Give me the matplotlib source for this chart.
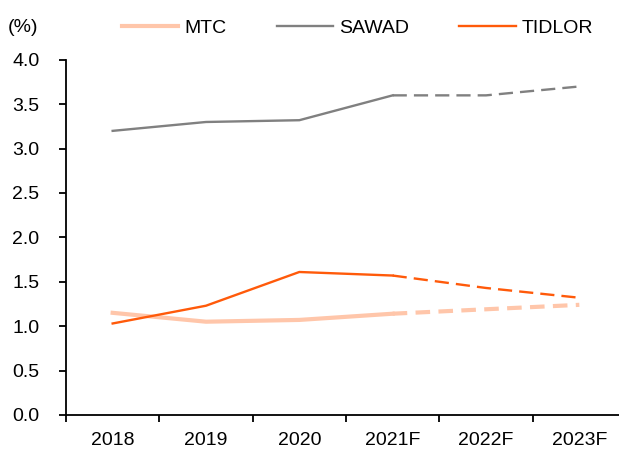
import matplotlib.pyplot as plt

plt.rcParams['font.family'] = ['Liberation Sans', 'DejaVu Sans']

years = ["2018", "2019", "2020", "2021F", "2022F", "2023F"]
mtc = [1.15, 1.05, 1.07, 1.14, 1.19, 1.24]
sawad = [3.20, 3.30, 3.32, 3.60, 3.60, 3.70]
tidlor = [1.03, 1.23, 1.61, 1.57, 1.43, 1.32]

n_actual = 4  # 2018-2021F solid, then dashed forecasts

series = [
    ("MTC", mtc, "#FFC6AA", 3.0, (3.5, 2)),
    ("SAWAD", sawad, "#808080", 1.7, (6, 3)),
    ("TIDLOR", tidlor, "#FF5A0A", 1.7, (6, 3)),
]

fig = plt.figure(figsize=(6.19, 4.5), dpi=100)
ax = fig.add_axes([0.1066, 0.078, 0.8934, 0.789])

x = list(range(len(years)))
for name, vals, col, lw, dash in series:
    ax.plot(x[:n_actual], vals[:n_actual], color=col, lw=lw, label=name,
            solid_joinstyle='miter')
    ax.plot(x[n_actual - 1:], vals[n_actual - 1:], color=col, lw=lw,
            dashes=dash)

ax.set_ylim(0, 4.0)
ax.set_yticks([i * 0.5 for i in range(9)])
ax.set_yticklabels([f"{i * 0.5:.1f}" for i in range(9)])
ax.set_xlim(-0.5, 5.425)
ax.set_xticks(x)
ax.set_xticklabels(years)
ax.set_xticks([i - 0.5 for i in range(6)], minor=True)
ax.tick_params(axis='x', which='major', length=0, pad=12, labelsize=14)
ax.tick_params(axis='x', which='minor', length=5, width=1.3, direction='out')
ax.tick_params(axis='y', length=5, width=1.3, labelsize=14, pad=14)

for s in ["top", "right"]:
    ax.spines[s].set_visible(False)
for s in ["left", "bottom"]:
    ax.spines[s].set_linewidth(1.3)

fig.text(0.013, 0.938, "(%)", fontsize=14, va='center')
leg = ax.legend(loc='center', bbox_to_anchor=(0.527, 1.09), ncol=3,
                frameon=False, fontsize=14, handlelength=2.9,
                columnspacing=2.6, handletextpad=0.3)

fig.savefig("out.png", dpi=100)
